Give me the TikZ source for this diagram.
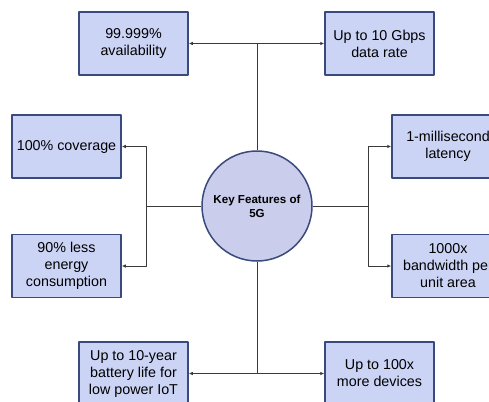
\documentclass[tikz,border=0pt]{standalone}
\usepackage{fontspec}
\setmainfont{Liberation Sans}
\usetikzlibrary{arrows.meta}
\definecolor{boxfill}{HTML}{CCD4F6}
\definecolor{hubfill}{HTML}{CBCDEC}
\definecolor{boxline}{HTML}{3B4A7C}
\definecolor{wire}{HTML}{3A3A3A}
\tikzset{
  every picture/.style={line join=round, >={Latex[length=4pt,width=3.5pt]}},
  feature/.style={draw=boxline, line width=1.5pt, fill=boxfill, minimum width=109pt,
    minimum height=63pt, inner sep=0pt, align=center, font=\fontsize{14.3}{17}\selectfont},
  hub/.style={circle, draw=boxline, line width=1.5pt, fill=hubfill, minimum size=110pt,
    inner sep=0pt, align=center, font=\bfseries\fontsize{11.6}{14}\selectfont},
  link/.style={draw=wire, line width=0.8pt},
}

\begin{document}
\begin{tikzpicture}[x=1pt,y=-1pt]
\useasboundingbox (0,0) rectangle (489,401);
\node[hub] (core) at (257,206) {Key Features of\\5G};
\node[feature] (avail) at (133.5,43.5) {99.999\%\\availability};
\node[feature] (rate) at (379.5,43.5) {Up to 10 Gbps\\data rate};
\node[feature] (cover) at (66.5,146.5) {100\% coverage};
\node[feature] (energy) at (66.5,266) {90\% less\\energy\\consumption};
\node[feature, minimum width=112pt] (lat) at (448,146.5) {1-millisecond\\latency};
\node[feature, minimum width=112pt] (bw) at (448,266) {1000x\\bandwidth per\\unit area};
\node[feature] (battery) at (133.5,373.5) {Up to 10-year\\battery life for\\low power IoT};
\node[feature] (devices) at (379.5,373.5) {Up to 100x\\more devices};
% branch points
\coordinate (up) at (257,43.5);
\coordinate (down) at (257,373.5);
\coordinate (left) at (146,206);
\coordinate (right) at (368,206);
\draw[link] (core.north) -- (up);
\draw[link,->] (up) -- (avail.east);
\draw[link,->] (up) -- (rate.west);
\draw[link] (core.south) -- (down);
\draw[link,->] (down) -- (battery.east);
\draw[link,->] (down) -- (devices.west);
\draw[link] (core.west) -- (left);
\draw[link,->] (left) |- (cover.east);
\draw[link,->] (left) |- (energy.east);
\draw[link] (core.east) -- (right);
\draw[link,->] (right) |- (lat.west);
\draw[link,->] (right) |- (bw.west);
\end{tikzpicture}
\end{document}
